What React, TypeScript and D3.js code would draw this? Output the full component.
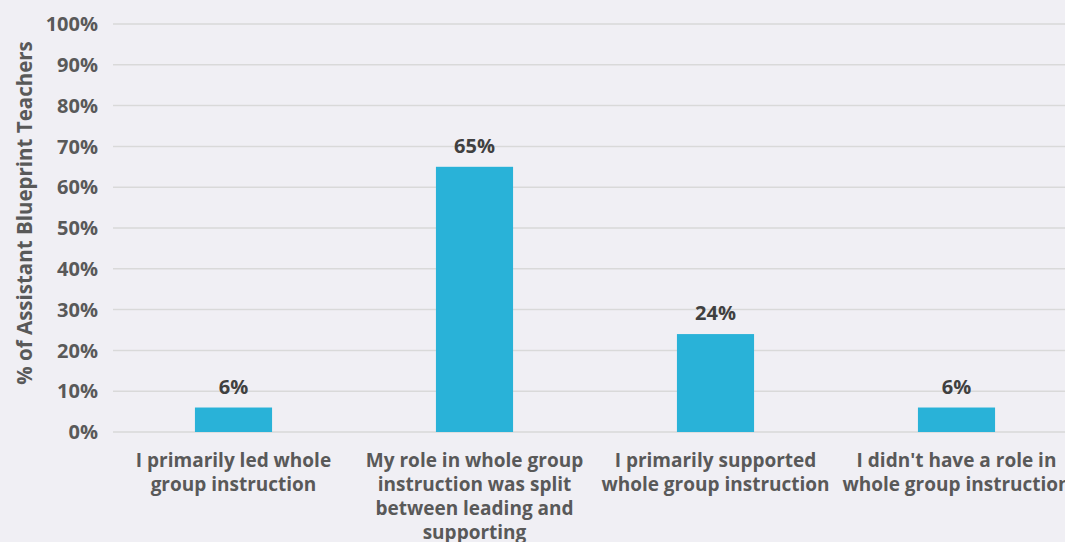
import React from "react";
import * as d3 from "d3";

const categories: string[][] = [
  ["I primarily led whole", "group instruction"],
  ["My role in whole group", "instruction was split", "between leading and", "supporting"],
  ["I primarily supported", "whole group instruction"],
  ["I didn't have a role in", "whole group instruction"],
];
const values: number[] = [6, 65, 24, 6];
const valueLabels: string[] = ["6%", "65%", "24%", "6%"];
const yTicks: number[] = [0, 10, 20, 30, 40, 50, 60, 70, 80, 90, 100];
const yTitle = "% of Assistant Blueprint Teachers";

const W = 1065;
const H = 542;
const FONT = "'Open Sans', 'Liberation Sans', Arial, sans-serif";

export default function App() {
  const x = d3
    .scaleBand<number>()
    .domain(d3.range(values.length))
    .range([113, 1077])
    .paddingInner(0.68)
    .paddingOuter(0.34);
  const y = d3.scaleLinear().domain([0, 100]).range([432, 24]);

  return (
    <svg
      width={W}
      height={H}
      style={{ position: "absolute", left: 0, top: 0, background: "#f0eff4" }}
    >
      <rect x={0} y={0} width={W} height={H} fill="#f0eff4" />
      {yTicks.map((t) => (
        <g key={t}>
          <line x1={113} x2={W} y1={y(t)} y2={y(t)} stroke="#d9d9d9" strokeWidth={1.5} />
          <text
            x={98}
            y={y(t)}
            dy="0.36em"
            textAnchor="end"
            fontFamily={FONT}
            fontWeight={700}
            fontSize={20}
            fill="#595959"
          >
            {t}%
          </text>
        </g>
      ))}
      <text
        transform={`translate(32, 213) rotate(-90)`}
        textAnchor="middle"
        fontFamily={FONT}
        fontWeight={700}
        fontSize={20.5}
        fill="#595959"
      >
        {yTitle}
      </text>
      {values.map((v, i) => {
        const bx = x(i)!;
        const bw = x.bandwidth();
        return (
          <g key={i}>
            <rect x={bx} y={y(v)} width={bw} height={y(0) - y(v)} fill="#29b2d8" />
            <text
              x={bx + bw / 2}
              y={y(v) - 14}
              textAnchor="middle"
              fontFamily={FONT}
              fontWeight={700}
              fontSize={20}
              fill="#404040"
            >
              {valueLabels[i]}
            </text>
            {categories[i].map((line, j) => (
              <text
                key={j}
                x={bx + bw / 2}
                y={467 + j * 24}
                textAnchor="middle"
                fontFamily={FONT}
                fontWeight={700}
                fontSize={19}
                fill="#595959"
              >
                {line}
              </text>
            ))}
          </g>
        );
      })}
    </svg>
  );
}
